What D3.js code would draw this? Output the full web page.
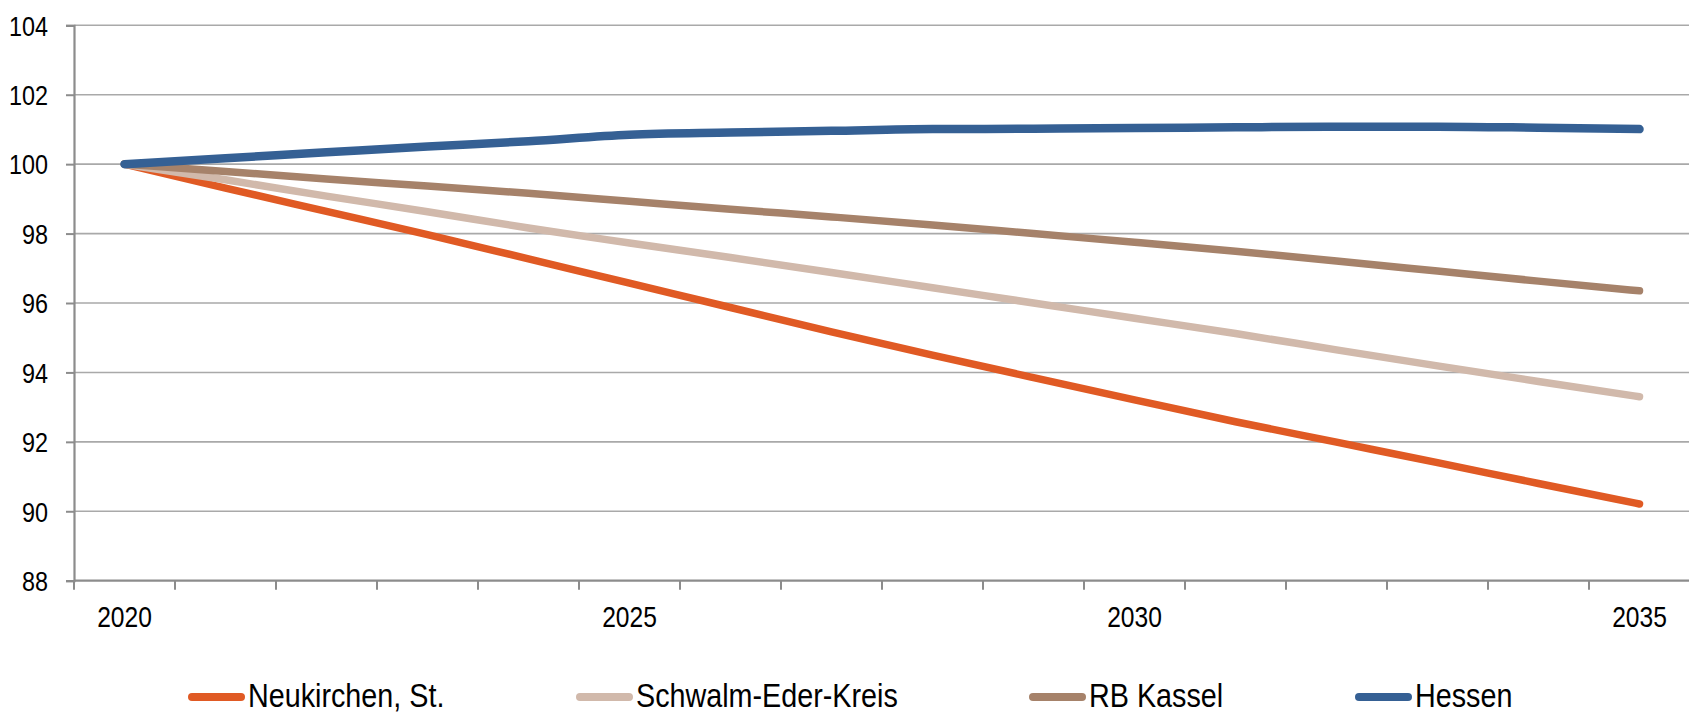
<!DOCTYPE html>
<html>
<head>
<meta charset="utf-8">
<script src="https://cdn.jsdelivr.net/npm/d3@7/dist/d3.min.js"></script>
<style>
  html, body { margin: 0; padding: 0; background: #fff; }
  svg { display: block; }
  text { font-family: "Liberation Sans", Arial, sans-serif; fill: #000; }
</style>
</head>
<body>
<svg id="chart" width="1689" height="715"></svg>
<script>
const years = [2020,2021,2022,2023,2024,2025,2026,2027,2028,2029,2030,2031,2032,2033,2034,2035];
const xTickLabels = [2020, 2025, 2030, 2035];
const yTicks = [88, 90, 92, 94, 96, 98, 100, 102, 104];
const seriesNames = ["Neukirchen, St.", "Schwalm-Eder-Kreis", "RB Kassel", "Hessen"];
const neukirchen = [100, 99.31, 98.64, 97.97, 97.27, 96.57, 95.87, 95.17, 94.50, 93.85, 93.21, 92.58, 91.99, 91.40, 90.80, 90.21];
const schwalm    = [100, 99.55, 99.08, 98.63, 98.16, 97.73, 97.31, 96.88, 96.44, 96.00, 95.56, 95.12, 94.65, 94.19, 93.74, 93.30];
const rbKassel   = [100, 99.79, 99.57, 99.37, 99.16, 98.93, 98.70, 98.48, 98.25, 98.00, 97.75, 97.49, 97.21, 96.92, 96.63, 96.35];
const hessen     = [100, 100.17, 100.34, 100.51, 100.66, 100.85, 100.91, 100.96, 101.01, 101.02, 101.04, 101.06, 101.08, 101.08, 101.05, 101.01];
const colors = ["#E05A24", "#D1B9AB", "#A6826A", "#356094"];

const NARROW = 0.82;
const svg = d3.select("#chart");
const mLeft = 74, mRight = 1690, mTop = 25.3, mBottom = 580.7;

const x = d3.scaleBand().domain(years).range([mLeft, mRight]).padding(0);
const y = d3.scaleLinear().domain([88, 104]).range([mBottom, mTop]);

// gridlines
svg.append("g").selectAll("line")
  .data(yTicks.filter(d => d !== 88))
  .join("line")
  .attr("x1", mLeft).attr("x2", 1689)
  .attr("y1", d => y(d)).attr("y2", d => y(d))
  .attr("stroke", "#a9a9a9").attr("stroke-width", 1.6);

// y axis (lines only; labels drawn narrow below)
const yAxis = d3.axisLeft(y).tickValues(yTicks).tickSize(8).tickFormat("");
const gy = svg.append("g").attr("transform", `translate(${mLeft},0)`).call(yAxis);
gy.select(".domain").attr("stroke", "#8c8c8c").attr("stroke-width", 2.2);
gy.selectAll(".tick line").attr("stroke", "#8c8c8c").attr("stroke-width", 2);

svg.append("g").selectAll("text")
  .data(yTicks)
  .join("text")
  .attr("transform", d => `translate(48,${y(d)}) scale(${NARROW},1)`)
  .attr("dy", "0.36em")
  .attr("text-anchor", "end")
  .attr("font-size", 28.5)
  .text(d => d);

// x axis baseline
svg.append("line").attr("x1", mLeft).attr("x2", 1689).attr("y1", mBottom).attr("y2", mBottom)
  .attr("stroke", "#8c8c8c").attr("stroke-width", 2.2);

// x ticks at band boundaries
const boundaries = years.map(d => x(d)).concat([x(years[years.length-1]) + x.bandwidth()]);
svg.append("g").selectAll("line")
  .data(boundaries.filter(b => b <= 1689))
  .join("line")
  .attr("x1", d => d).attr("x2", d => d)
  .attr("y1", mBottom).attr("y2", mBottom + 9)
  .attr("stroke", "#8c8c8c").attr("stroke-width", 2);

// x labels
svg.append("g").selectAll("text")
  .data(xTickLabels)
  .join("text")
  .attr("transform", d => `translate(${x(d) + x.bandwidth()/2},627) scale(${NARROW},1)`)
  .attr("text-anchor", "middle")
  .attr("font-size", 30)
  .text(d => d);

// lines
const allSeries = [neukirchen, schwalm, rbKassel, hessen];
const line = d3.line()
  .x((d, i) => x(years[i]) + x.bandwidth()/2)
  .y(d => y(d))
  .curve(d3.curveMonotoneX);

svg.append("g").selectAll("path")
  .data(allSeries)
  .join("path")
  .attr("d", d => line(d))
  .attr("fill", "none")
  .attr("stroke", (d, i) => colors[i])
  .attr("stroke-width", (d, i) => i === 3 ? 8.5 : 7.5)
  .attr("stroke-linecap", "round")
  .attr("stroke-linejoin", "round");

// legend
const legendX = [188, 576, 1029, 1355];
const lg = svg.append("g").selectAll("g")
  .data(seriesNames)
  .join("g")
  .attr("transform", (d, i) => `translate(${legendX[i]},697)`);
lg.append("line")
  .attr("x1", 4).attr("x2", 53).attr("y1", 0).attr("y2", 0)
  .attr("stroke", (d, i) => colors[i])
  .attr("stroke-width", 8)
  .attr("stroke-linecap", "round");
lg.append("text")
  .attr("transform", `translate(60,10) scale(0.845,1)`)
  .attr("font-size", 34)
  .text(d => d);
</script>
</body>
</html>
